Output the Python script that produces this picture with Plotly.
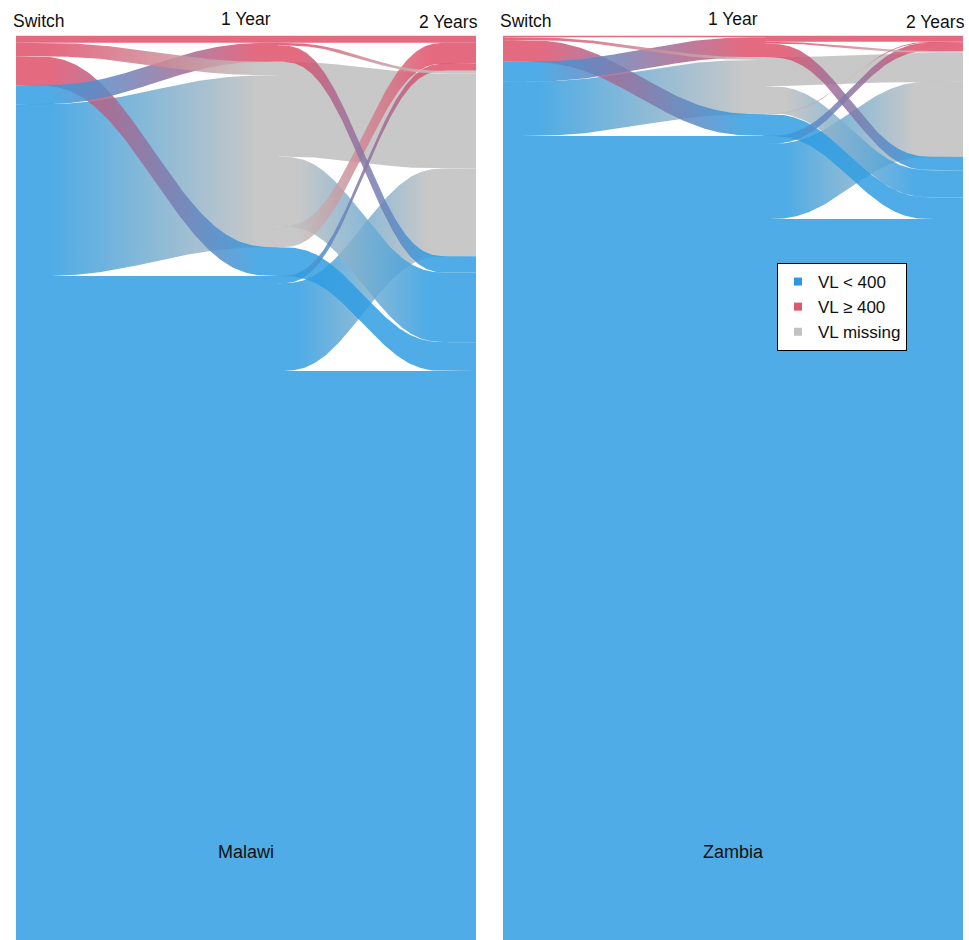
import numpy as np
import plotly.graph_objects as go

# ---------------- data ----------------
STAGE_LABELS = ["Switch", "1 Year", "2 Years"]
COUNTRIES = ["Malawi", "Zambia"]
CAT_CODES = ["B", "R", "M"]
CAT_LABELS = ["VL < 400", "VL \u2265 400", "VL missing"]

# Flows in percent of patients. Each stage: source, target, value (listed in
# stacking order at the source), and the stacking order at the target.
malawi_s1_src = ["R", "R", "R", "B", "B", "B"]
malawi_s1_tgt = ["R", "M", "B", "R", "M", "B"]
malawi_s1_val = [0.8, 1.5, 3.2, 2.1, 19.0, 73.4]
malawi_s1_tgt_order = [0, 3, 1, 4, 2, 5]

malawi_s2_src = ["R", "R", "R", "M", "M", "M", "B", "B", "B", "B"]
malawi_s2_tgt = ["R", "M", "B", "M", "B", "R", "B", "R", "M", "B"]
malawi_s2_val = [0.8, 0.3, 1.8, 10.5, 7.7, 2.3, 3.2, 0.8, 9.7, 62.9]
malawi_s2_tgt_order = [0, 5, 7, 1, 3, 8, 2, 4, 6, 9]

zambia_s1_src = ["R", "R", "R", "B", "B", "B"]
zambia_s1_tgt = ["R", "M", "B", "R", "M", "B"]
zambia_s1_val = [0.2, 0.3, 2.4, 2.2, 6.0, 88.9]
zambia_s1_tgt_order = [0, 3, 1, 4, 2, 5]

zambia_s2_src = ["R", "R", "R", "M", "M", "M", "B", "B", "B", "B"]
zambia_s2_tgt = ["R", "M", "B", "M", "B", "R", "B", "R", "M", "B"]
zambia_s2_val = [0.7, 0.2, 1.5, 3.2, 3.0, 0.1, 2.4, 0.9, 8.3, 79.7]
zambia_s2_tgt_order = [0, 5, 7, 1, 3, 8, 2, 4, 6, 9]

PANELS = {
    "Malawi": [(malawi_s1_src, malawi_s1_tgt, malawi_s1_val, malawi_s1_tgt_order),
               (malawi_s2_src, malawi_s2_tgt, malawi_s2_val, malawi_s2_tgt_order)],
    "Zambia": [(zambia_s1_src, zambia_s1_tgt, zambia_s1_val, zambia_s1_tgt_order),
               (zambia_s2_src, zambia_s2_tgt, zambia_s2_val, zambia_s2_tgt_order)],
}

# ---------------- style / layout ----------------
FLOW_COLORS = {"B": "rgba(48,157,226,0.85)", "R": "rgba(224,80,106,0.85)",
               "M": "rgba(190,190,190,0.85)"}
LEGEND_COLORS = {"B": "#2f96df", "R": "#e0566f", "M": "#c2c2c2"}
FONT = "Liberation Sans, Arial, sans-serif"

PANEL_W = 460.0                     # horizontal axis runs 0..PANEL_W
STAGE_X = [0.0, PANEL_W / 2, PANEL_W]
# per transition: (polygon start, curve start, curve end, polygon end)
SEGMENTS = [(0.0, 15.0, 262.0, 262.0), (262.0, 262.0, 432.0, PANEL_W)]


def smooth(t):
    return t * t * t * (t * (6 * t - 15) + 10)


def flow_xy(k, y0a, y0b, y1a, y1b):
    xl, c0, c1, xr = SEGMENTS[k]
    xc = np.linspace(c0, c1, 120)
    s = smooth((xc - c0) / (c1 - c0))
    xs = np.concatenate([[xl], xc, [xr]])
    top = np.concatenate([[y0a], y0a + (y1a - y0a) * s, [y1a]])
    bot = np.concatenate([[y0b], y0b + (y1b - y0b) * s, [y1b]])
    return np.concatenate([xs, xs[::-1]]), np.concatenate([top, bot[::-1]])


fig = go.Figure()

for pi, country in enumerate(COUNTRIES):
    xref = "x" if pi == 0 else "x2"
    items = []
    for k, (src, tgt, val, tgt_order) in enumerate(PANELS[country]):
        n = len(val)
        src_pos = np.concatenate([[0], np.cumsum(val)])[:n]
        tgt_pos = [0.0] * n
        acc = 0.0
        for idx in tgt_order:
            tgt_pos[idx] = acc
            acc += val[idx]
        for i in range(n):
            items.append((val[i], k, src[i], tgt[i], src_pos[i], tgt_pos[i]))
    items.sort(key=lambda t: -t[0])
    for v, k, s, t, y0, y1 in items:
        xs, ys = flow_xy(k, y0, y0 + v, y1, y1 + v)
        fig.add_trace(go.Scatter(
            x=xs, y=ys, xaxis=xref, yaxis="y", mode="lines", fill="toself",
            line=dict(width=0, color="rgba(0,0,0,0)"),
            fillgradient=dict(type="horizontal",
                              colorscale=[[0, FLOW_COLORS[s]], [1, FLOW_COLORS[t]]],
                              start=SEGMENTS[k][1] + 20, stop=SEGMENTS[k][2] - 20),
            hoverinfo="skip", showlegend=False))

for code, label in zip(CAT_CODES, CAT_LABELS):
    fig.add_trace(go.Scatter(x=[None], y=[None], mode="markers", name=label,
                             marker=dict(symbol="square", size=8, color=LEGEND_COLORS[code])))

W, H = 969, 940
TOP = 35.5
annotations = []
for pi, country in enumerate(COUNTRIES):
    xref = "x" if pi == 0 else "x2"
    annotations += [
        dict(text=STAGE_LABELS[0], x=STAGE_X[0], xref=xref, xanchor="left", xshift=-5,
             y=1 - 21.5 / H, yref="paper", yanchor="middle", showarrow=False,
             font=dict(family=FONT, size=17.5, color="#111")),
        dict(text=STAGE_LABELS[1], x=STAGE_X[1], xref=xref, xanchor="center",
             y=1 - 19 / H, yref="paper", yanchor="middle", showarrow=False,
             font=dict(family=FONT, size=17.5, color="#111")),
        dict(text=STAGE_LABELS[2], x=STAGE_X[2], xref=xref, xanchor="right", xshift=4,
             y=1 - 22 / H, yref="paper", yanchor="middle", showarrow=False,
             font=dict(family=FONT, size=17.5, color="#111")),
        dict(text=country, x=STAGE_X[1], xref=xref, xanchor="center",
             y=1 - 852 / H, yref="paper", yanchor="middle", showarrow=False,
             font=dict(family=FONT, size=18, color="#111")),
    ]

axis_common = dict(range=[0, PANEL_W], visible=False, fixedrange=True)
fig.update_layout(
    width=W, height=H, autosize=False,
    margin=dict(l=0, r=0, t=0, b=0),
    paper_bgcolor="white", plot_bgcolor="white",
    xaxis=dict(domain=[16 / W, 476 / W], anchor="y", **axis_common),
    xaxis2=dict(domain=[503 / W, 963 / W], anchor="y", **axis_common),
    yaxis=dict(domain=[0, 1 - TOP / H], range=[100, 0], visible=False, fixedrange=True),
    annotations=annotations,
    legend=dict(x=777 / W, xanchor="left", y=1 - 263 / H, yanchor="top",
                bgcolor="white", bordercolor="black", borderwidth=1,
                font=dict(family=FONT, size=17, color="#111"), itemwidth=30,
                tracegroupgap=0),
    showlegend=True,
)

fig.write_html("out.html")
